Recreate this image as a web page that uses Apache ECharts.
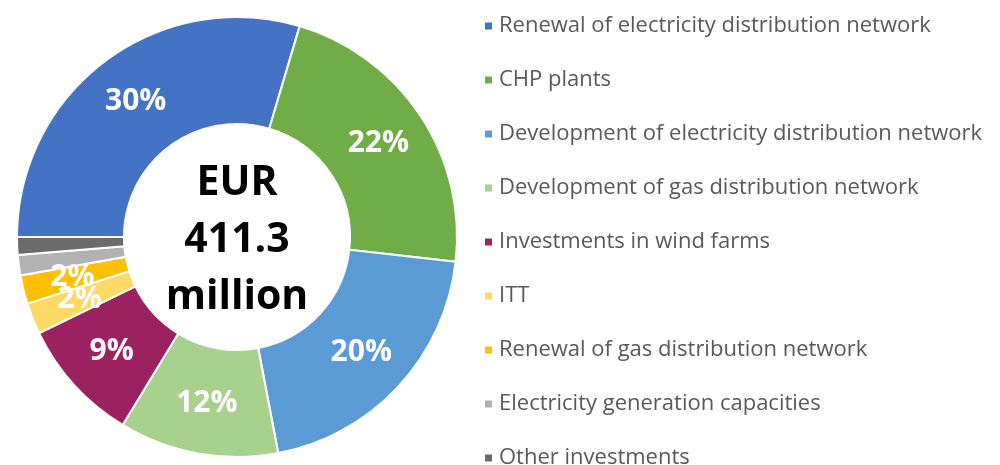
<!DOCTYPE html>
<html>
<head>
<meta charset="utf-8">
<script src="https://cdn.jsdelivr.net/npm/echarts@6/dist/echarts.min.js"></script>
<style>
  html, body { margin: 0; padding: 0; background: #fff; }
  #main { width: 1000px; height: 465px; }
</style>
</head>
<body>
<div id="main"></div>
<script>
// investment split, share of EUR 411.3 million (%)
const categories = [
  'Renewal of electricity distribution network',
  'CHP plants',
  'Development of electricity distribution network',
  'Development of gas distribution network',
  'Investments in wind farms',
  'ITT',
  'Renewal of gas distribution network',
  'Electricity generation capacities',
  'Other investments'
];
const shares = [29.6, 22.2, 20.2, 11.7, 9.1, 2.3, 2.1, 1.5, 1.3];
const colors = ['#4472C4', '#70AD47', '#5B9BD5', '#A9D18E', '#9B2160', '#FFD966', '#FFC000', '#B2B2B2', '#6B6B6B'];
const centerLines = ['EUR', '411.3', 'million'];

const chart = echarts.init(document.getElementById('main'));

const pieData = categories.map((name, i) => ({
  name: name,
  value: shares[i],
  itemStyle: { color: colors[i] },
  label: { show: shares[i] >= 2 }
}));

const option = {
  animation: false,
  legend: {
    orient: 'vertical',
    left: 478,
    top: 9,
    height: 520,
    icon: 'rect',
    itemWidth: 9,
    itemHeight: 9,
    itemGap: 30,
    data: categories,
    textStyle: {
      fontFamily: 'Open Sans',
      fontSize: 22,
      lineHeight: 24,
      color: '#595959',
      padding: [0, 0, 0, 1]
    }
  },
  graphic: [{
    type: 'text',
    x: 237,
    y: 240,
    style: {
      text: centerLines.join('\n'),
      align: 'center',
      verticalAlign: 'middle',
      fontFamily: 'Open Sans',
      fontWeight: 'bold',
      fontSize: 41,
      lineHeight: 57,
      fill: '#000'
    }
  }],
  series: [{
    type: 'pie',
    center: [237, 237],
    radius: [113, 220],
    startAngle: 180,
    clockwise: true,
    avoidLabelOverlap: false,
    labelLayout: { hideOverlap: false },
    itemStyle: { borderColor: '#fff', borderWidth: 2 },
    label: {
      position: 'inside',
      formatter: p => Math.round(p.percent) + '%',
      color: '#fff',
      fontFamily: 'Open Sans',
      fontWeight: 'bold',
      fontSize: 30
    },
    labelLine: { show: false },
    emphasis: { disabled: true },
    data: pieData
  }]
};

chart.setOption(option);
</script>
</body>
</html>
